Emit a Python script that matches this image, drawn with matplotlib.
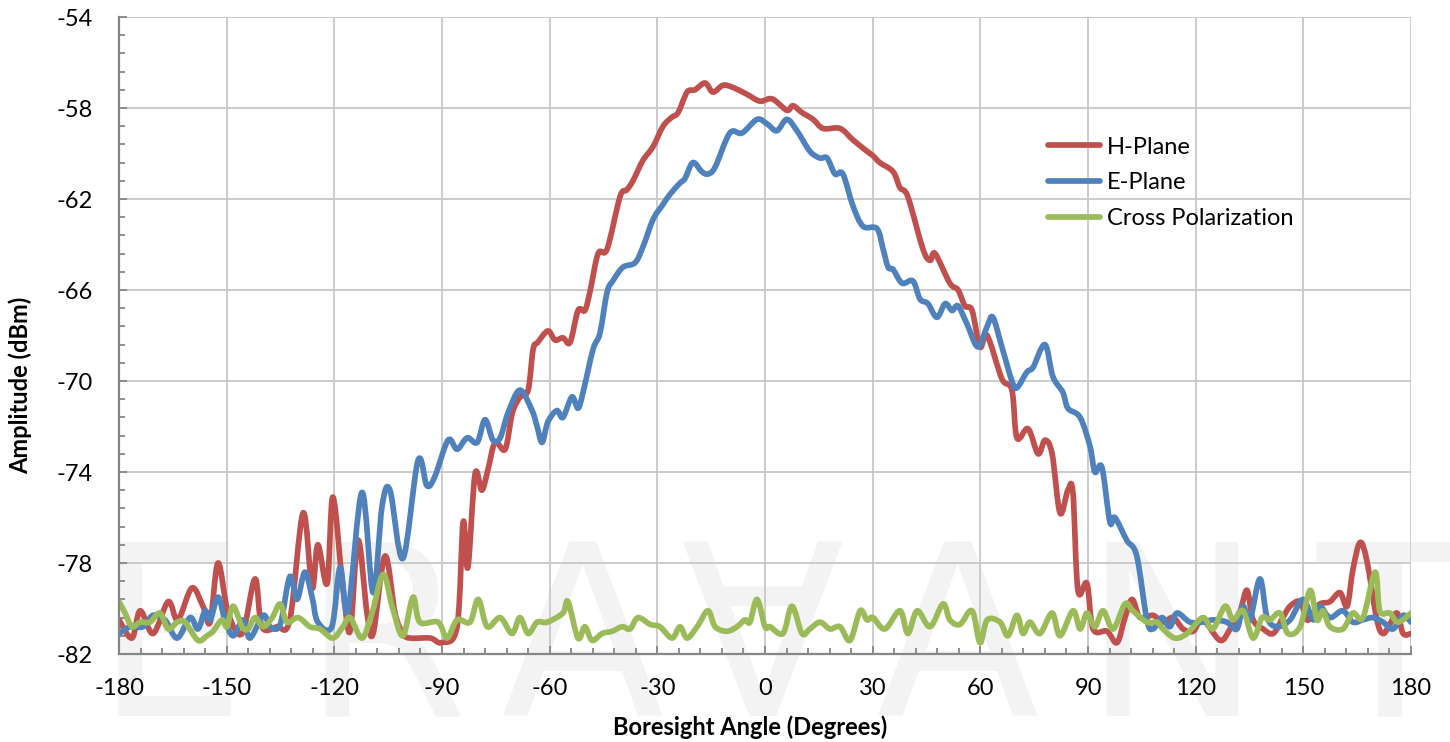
import numpy as np
import matplotlib
matplotlib.use("Agg")
import matplotlib.pyplot as plt
from matplotlib.ticker import FixedLocator
from matplotlib.path import Path
from matplotlib.patches import PathPatch

# H-Plane (red)
h_angle = [-180, -176.4, -174.1, -170.5, -166.3, -163.6, -159.7, -156.6, -154.6, -152.4,
           -149.6, -145.7, -142.1, -140.2, -136.0, -132.4, -128.7, -126.2, -124.6, -122.0,
           -120.4, -117.6, -115.6, -113.4, -110.9, -109.2, -105.9, -103.1, -100.9, -98.9,
           -93.3, -90.0, -85.8, -84.1, -82.8, -80.8, -78.9, -77.2, -75.2, -72.4,
           -70.4, -68.2, -66.0, -64.6, -63.3, -60.5, -58.5, -56.3, -54.3, -52.1,
           -50.2, -48.8, -46.5, -44.0, -40.4, -38.5, -36.8, -34.0, -31.2, -28.4,
           -25.9, -24.2, -21.7, -19.5, -16.7, -14.5, -11.7, -8.9, -5.0, -1.4,
           2.0, 6.1, 7.8, 10.3, 13.4, 16.2, 20.9, 24.5, 28.4, 30.1,
           32.0, 35.7, 37.6, 39.8, 44.0, 46.0, 47.4, 51.5, 53.8, 55.7,
           57.7, 59.9, 61.9, 66.0, 68.8, 70.2, 73.3, 76.1, 78.0, 80.0,
           82.2, 84.4, 85.8, 87.2, 89.7, 91.4, 95.3, 98.1, 100.3, 102.3,
           104.5, 108.1, 110.9, 113.7, 116.5, 119.3, 122.0, 126.8, 129.6, 132.4,
           134.3, 136.0, 138.8, 141.6, 144.3, 146.3, 149.1, 151.0, 152.7, 154.6,
           157.4, 160.2, 162.2, 163.8, 165.8, 167.7, 170.5, 172.2, 174.1, 176.1,
           177.8, 180]
h_amp = [-80.5, -81.3, -80.1, -81.1, -79.7, -80.5, -79.1, -79.9, -80.6, -78.0,
         -80.2, -81.1, -78.7, -80.8, -80.8, -80.5, -75.8, -79.1, -77.2, -78.9,
         -75.1, -79.1, -81.0, -77.0, -80.2, -81.1, -77.7, -80.2, -81.1, -81.3,
         -81.3, -81.5, -80.8, -76.2, -78.2, -74.1, -74.8, -73.9, -72.7, -73.0,
         -71.4, -70.7, -70.4, -68.6, -68.3, -67.8, -68.2, -68.1, -68.3, -66.9,
         -66.9, -66.1, -64.4, -64.2, -61.9, -61.6, -61.2, -60.3, -59.7, -58.8,
         -58.4, -58.2, -57.3, -57.2, -56.9, -57.3, -57.0, -57.1, -57.4, -57.7,
         -57.6, -58.1, -57.9, -58.2, -58.5, -58.9, -58.9, -59.4, -59.9, -60.1,
         -60.4, -60.8, -61.5, -61.9, -64.2, -64.7, -64.4, -65.7, -66.0, -66.7,
         -66.9, -68.5, -68.0, -69.9, -70.4, -72.5, -72.1, -73.2, -72.6, -73.2,
         -75.8, -74.8, -74.9, -79.2, -78.9, -80.9, -81.0, -81.5, -80.4, -79.6,
         -80.4, -80.3, -80.6, -80.4, -80.9, -81.0, -80.5, -81.4, -80.9, -80.1,
         -79.2, -80.5, -80.9, -81.1, -80.4, -79.9, -79.7, -80.5, -80.2, -79.8,
         -79.7, -79.3, -79.9, -78.3, -77.1, -77.9, -80.5, -81.1, -80.7, -80.2,
         -81.1, -81.1]

# E-Plane (blue)
e_angle = [-180, -176.9, -173.3, -170.5, -167.2, -163.8, -160.2, -158.0, -156.0, -154.6,
           -152.4, -150.5, -148.2, -145.4, -143.5, -139.8, -137.9, -135.1, -132.4, -130.4,
           -128.2, -126.2, -124.6, -120.7, -118.4, -116.2, -112.3, -109.2, -106.7, -104.5,
           -100.9, -96.7, -94.2, -92.0, -88.3, -85.8, -83.0, -80.2, -78.0, -75.8,
           -73.8, -71.6, -68.3, -64.9, -63.5, -62.1, -60.5, -58.0, -56.3, -53.8,
           -52.1, -50.7, -47.9, -46.0, -44.0, -42.4, -39.6, -36.2, -34.0, -31.2,
           -28.7, -26.5, -23.7, -22.3, -20.1, -17.6, -15.9, -13.9, -9.8, -6.4,
           -2.2, 0.6, 3.3, 6.1, 8.9, 12.5, 15.3, 17.3, 19.5, 21.7,
           24.5, 27.3, 31.2, 32.9, 34.3, 35.7, 38.2, 41.2, 43.2, 45.4,
           47.9, 50.2, 52.1, 53.8, 56.3, 59.3, 61.9, 63.5, 66.0, 68.8,
           70.2, 73.0, 74.7, 78.0, 80.2, 83.0, 84.4, 87.8, 90.6, 91.9,
           93.9, 96.1, 97.5, 100.8, 103.6, 106.4, 108.1, 110.6, 112.8, 114.8,
           118.4, 122.0, 124.8, 128.7, 131.5, 133.2, 135.1, 137.9, 139.9, 142.7,
           146.3, 149.9, 152.7, 154.6, 157.4, 161.0, 163.8, 166.6, 169.4, 172.2,
           175.0, 177.8, 180]
e_amp = [-81.1, -80.8, -80.8, -80.3, -80.5, -81.3, -80.4, -80.9, -80.1, -80.5,
         -79.5, -80.5, -81.2, -80.5, -81.3, -80.3, -80.8, -80.7, -78.6, -79.6,
         -78.4, -79.5, -80.6, -80.8, -78.2, -80.1, -74.9, -79.3, -75.5, -74.8,
         -77.8, -73.5, -74.6, -74.2, -72.6, -73.0, -72.5, -72.7, -71.7, -72.6,
         -72.5, -71.4, -70.4, -71.3, -72.0, -72.7, -71.8, -71.3, -71.6, -70.7,
         -71.2, -70.5, -68.6, -67.9, -66.1, -65.6, -65.0, -64.8, -64.1, -62.9,
         -62.3, -61.8, -61.3, -61.1, -60.4, -60.8, -60.9, -60.6, -59.1, -59.1,
         -58.5, -58.7, -59.0, -58.5, -59.0, -59.9, -60.2, -60.2, -60.9, -60.9,
         -62.3, -63.2, -63.3, -64.2, -65.0, -65.1, -65.7, -65.6, -66.4, -66.6,
         -67.2, -66.6, -66.9, -66.7, -67.5, -68.5, -67.6, -67.2, -68.5, -70.0,
         -70.3, -69.6, -69.4, -68.4, -69.8, -70.5, -71.2, -71.6, -72.9, -74.0,
         -73.8, -76.2, -76.0, -77.0, -77.7, -80.5, -80.9, -80.4, -80.8, -80.2,
         -80.6, -80.6, -80.5, -80.6, -80.9, -79.9, -80.5, -78.7, -80.4, -80.8,
         -80.5, -79.6, -80.5, -79.9, -80.4, -80.1, -80.6, -80.5, -80.4, -80.6,
         -80.9, -80.3, -80.6]

# Cross Polarization (green)
x_angle = [-180, -178.3, -176.4, -174.1, -171.4, -168.6, -166.3, -163.8, -161.6, -158.0,
           -155.5, -153.8, -151.3, -149.9, -148.2, -145.7, -144.0, -142.1, -139.8, -137.3,
           -135.1, -133.2, -130.1, -126.8, -124.0, -120.4, -117.6, -115.6, -112.3, -109.5,
           -106.4, -103.9, -100.9, -98.1, -96.2, -91.1, -88.6, -85.8, -82.2, -79.9,
           -77.4, -73.8, -70.5, -68.3, -66.0, -63.5, -60.7, -56.3, -54.9, -52.1,
           -50.2, -48.2, -45.4, -42.6, -39.8, -37.6, -35.4, -32.0, -29.3, -25.9,
           -23.7, -21.7, -18.9, -15.9, -13.9, -10.6, -7.8, -5.6, -4.2, -2.2,
           0.0, 1.4, 5.0, 7.5, 10.3, 12.5, 15.3, 18.1, 20.9, 23.7,
           26.5, 28.4, 30.1, 33.4, 37.6, 39.8, 42.4, 46.0, 49.6, 51.5,
           54.3, 57.7, 59.9, 61.9, 65.5, 67.7, 70.2, 71.9, 73.8, 76.6,
           80.0, 82.2, 85.8, 87.8, 89.7, 91.9, 94.2, 97.0, 100.3, 102.5,
           106.4, 109.2, 110.9, 114.2, 117.6, 122.0, 124.8, 128.2, 130.4, 133.2,
           136.0, 138.5, 140.7, 143.5, 145.7, 149.1, 151.9, 153.8, 155.5, 157.4,
           161.0, 163.8, 166.6, 170.0, 171.3, 174.1, 176.4, 180]
x_amp = [-79.7, -80.2, -80.8, -80.6, -80.6, -80.2, -80.9, -80.6, -80.6, -81.4,
         -81.2, -81.0, -80.5, -80.8, -79.9, -80.8, -80.9, -80.4, -80.8, -80.4,
         -79.8, -80.6, -80.4, -80.8, -80.9, -81.3, -80.8, -80.4, -81.3, -80.2,
         -78.5, -79.9, -81.2, -79.5, -80.6, -80.6, -81.3, -80.5, -80.6, -79.6,
         -80.8, -80.4, -81.1, -80.4, -81.1, -80.6, -80.6, -80.2, -79.7, -81.3,
         -80.8, -81.4, -81.1, -81.0, -80.8, -80.9, -80.4, -80.7, -80.8, -81.3,
         -80.8, -81.3, -80.8, -80.1, -80.8, -81.0, -80.8, -80.5, -80.6, -79.6,
         -80.8, -80.8, -81.1, -79.9, -81.1, -80.9, -80.6, -80.9, -80.8, -81.4,
         -80.1, -80.5, -80.4, -80.9, -80.1, -81.1, -80.1, -80.8, -79.8, -80.5,
         -80.7, -80.1, -81.5, -80.5, -80.6, -81.2, -80.3, -81.1, -80.6, -81.1,
         -80.2, -81.2, -80.1, -80.9, -80.2, -80.8, -80.1, -80.9, -79.8, -80.1,
         -80.6, -80.6, -80.9, -81.3, -81.1, -80.4, -80.9, -79.9, -80.5, -80.1,
         -81.3, -80.4, -80.5, -80.2, -81.1, -80.8, -79.2, -80.5, -80.1, -80.8,
         -80.9, -80.2, -80.4, -78.4, -80.1, -80.2, -80.6, -80.2]

series_names = ["H-Plane", "E-Plane", "Cross Polarization"]
series_colors = ["#C0504D", "#4F81BD", "#9BBB59"]
x_ticks = list(range(-180, 181, 30))
y_ticks = list(range(-82, -53, 4))
watermark_letters = ["E", "R", "A", "\u2200", "A", "N", "T"]
watermark_x = [170, 385, 582, 762, 957, 1172, 1390]

plt.rcParams['font.family'] = ['Lato', 'DejaVu Sans']
plt.rcParams['axes.unicode_minus'] = False


def smooth_path(xs, ys):
    # Excel-style smoothed line: cubic Bezier through every point
    p = np.column_stack([xs, ys]).astype(float)
    verts = [p[0]]
    codes = [Path.MOVETO]
    n = len(p)
    for i in range(n - 1):
        p0 = p[max(i - 1, 0)]
        p1 = p[i]
        p2 = p[i + 1]
        p3 = p[min(i + 2, n - 1)]
        c1 = p1 + (p2 - p0) / 6.0
        c2 = p2 - (p3 - p1) / 6.0
        verts += [c1, c2, p2]
        codes += [Path.CURVE4] * 3
    return Path(verts, codes)


fig = plt.figure(figsize=(14.5, 7.42), dpi=100)
fig.patch.set_facecolor("white")

# watermark behind everything
for letter, xp in zip(watermark_letters, watermark_x):
    fig.text(xp / 1450, 26 / 742, letter, fontsize=172, color="#f3f3f3",
             ha="center", va="baseline", family="DejaVu Sans", zorder=-5)

ax = fig.add_axes([119 / 1450, 88 / 742, 1292 / 1450, 637 / 742])
ax.patch.set_visible(False)

lw = 4.1
data = [(h_angle, h_amp), (e_angle, e_amp), (x_angle, x_amp)]
for (xs, ys), name, col in zip(data, series_names, series_colors):
    patch = PathPatch(smooth_path(xs, ys), facecolor="none", edgecolor=col,
                      lw=lw, joinstyle="round", capstyle="round", zorder=2)
    ax.add_patch(patch)
    ax.plot([], [], color=col, lw=lw, label=name, solid_capstyle="round")

ax.set_xlim(-180, 180)
ax.set_ylim(-82, -54)
ax.xaxis.set_major_locator(FixedLocator(x_ticks))
ax.xaxis.set_minor_locator(FixedLocator(np.arange(-180, 181, 6)))
ax.yaxis.set_major_locator(FixedLocator(y_ticks))
ax.yaxis.set_minor_locator(FixedLocator(np.arange(-82, -53.9, 0.8)))

ax.grid(True, which="major", color="#c8c8c8", lw=1.3)
ax.set_axisbelow(True)
for side in ["top", "right"]:
    ax.spines[side].set_visible(False)
for side in ["left", "bottom"]:
    ax.spines[side].set_color("#868686")
    ax.spines[side].set_linewidth(1.6)

ax.tick_params(which="major", direction="in", length=6, width=1.3, color="#868686",
               labelsize=17, labelcolor="black")
ax.tick_params(which="minor", direction="in", length=4.5, width=1.3, color="#868686")
ax.tick_params(axis="x", which="major", pad=17)
ax.tick_params(axis="y", which="major", pad=19)

fig.text(20 / 1450, (742 - 385) / 742, "Amplitude (dBm)", rotation=90,
         fontsize=17, fontweight="bold", ha="center", va="center")
fig.text(750 / 1450, (742 - 727) / 742, "Boresight Angle (Degrees)",
         fontsize=17, fontweight="bold", ha="center", va="center")

ax.legend(loc="upper left", bbox_to_anchor=(0.719, 0.812), frameon=False,
          fontsize=17, handlelength=2.2, handletextpad=0.3, labelspacing=0.62,
          borderpad=0, borderaxespad=0)

fig.savefig("out.png", dpi=100)
